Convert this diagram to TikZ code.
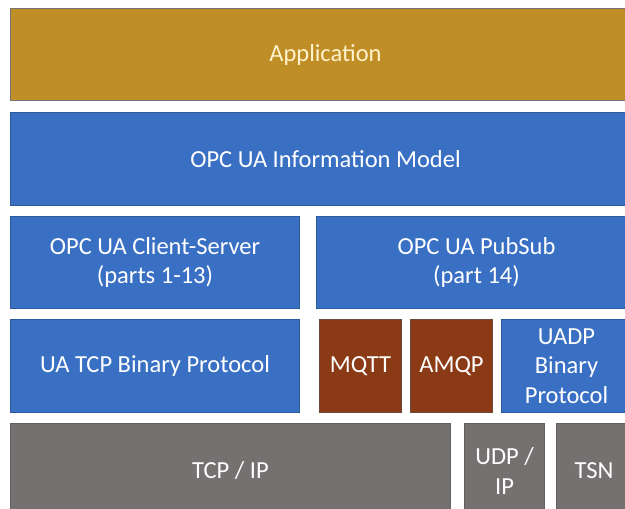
\documentclass[tikz,border=0pt]{standalone}
\usepackage{fontspec}
\setmainfont{Carlito}
\definecolor{appgold}{RGB}{192,142,38}
\definecolor{uablue}{RGB}{58,112,196}
\definecolor{mqbrown}{RGB}{139,58,22}
\definecolor{netgrey}{RGB}{118,113,113}
\definecolor{apptext}{RGB}{255,242,204}
\begin{document}
\begin{tikzpicture}[x=1pt,y=-1pt,
  layer/.style={anchor=north west, inner sep=0pt, align=center,
    font=\fontsize{24.5}{29.5}\selectfont, text=white, line width=1pt},
  appbox/.style={layer, fill=appgold, draw=black!55, text=apptext},
  bluebox/.style={layer, fill=uablue, draw=uablue!80!black},
  brownbox/.style={layer, fill=mqbrown, draw=mqbrown!70!black!60!gray},
  greybox/.style={layer, fill=netgrey, draw=netgrey!85!black}]
\useasboundingbox (0,0) rectangle (625,509);
\clip (0,0) rectangle (625,509);
\fill[white] (0,0) rectangle (625,509);
% application layer
\node[appbox, minimum width=630, minimum height=92] (app) at (10,8) {Application};
% information model
\node[bluebox, minimum width=630, minimum height=93] (im) at (10,112) {OPC UA Information Model};
% communication models
\node[bluebox, minimum width=289, minimum height=92] (cs) at (10,216) {OPC UA Client-Server\\(parts 1-13)};
\node[bluebox, minimum width=320, minimum height=92] (ps) at (316,216) {OPC UA PubSub\\(part 14)};
% protocol mappings
\node[bluebox, minimum width=289, minimum height=93] (tcpbin) at (10,319) {UA TCP Binary Protocol};
\node[brownbox, minimum width=82, minimum height=93] (mqtt) at (319,319) {MQTT};
\node[brownbox, minimum width=82, minimum height=93] (amqp) at (410,319) {AMQP};
\node[bluebox, minimum width=130, minimum height=93] (uadp) at (501,319) {UADP\\Binary\\Protocol};
% transport
\node[greybox, minimum width=440, minimum height=95] (tcpip) at (10,423) {TCP / IP};
\node[greybox, minimum width=80, minimum height=95] (udp) at (464,423) {UDP /\\IP};
\node[greybox, minimum width=75, minimum height=95] (tsn) at (556,423) {TSN};
\end{tikzpicture}
\end{document}
